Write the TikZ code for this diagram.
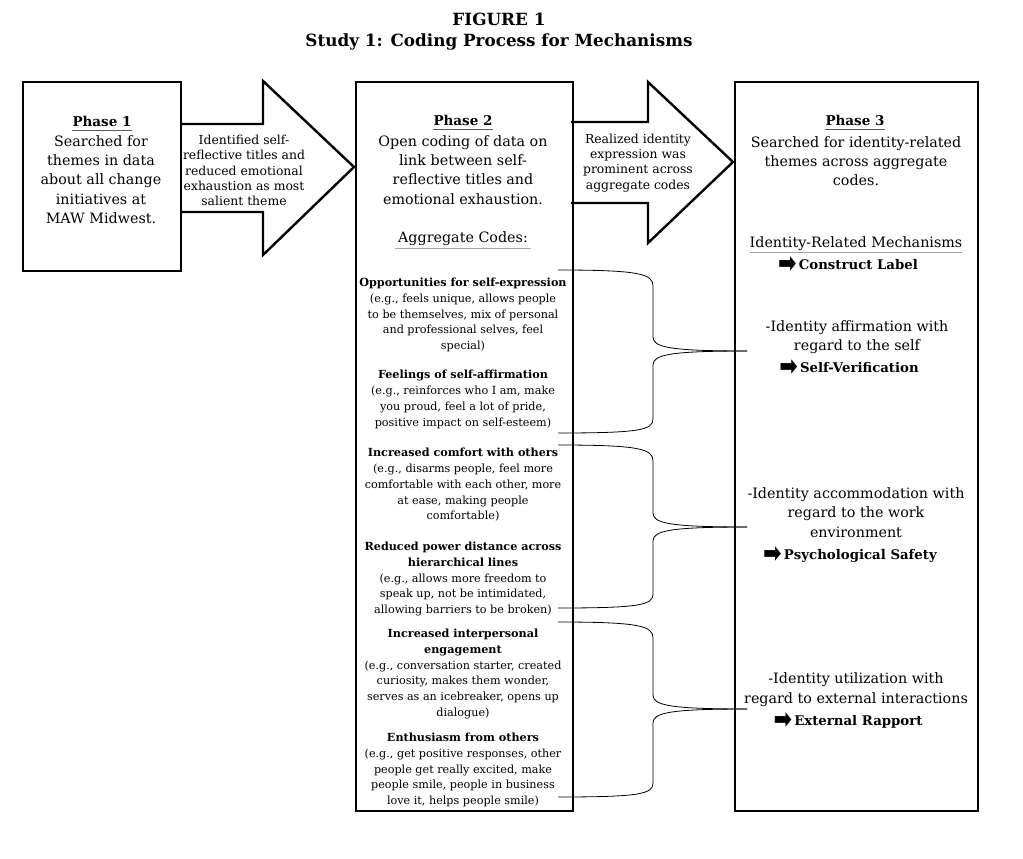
\documentclass[tikz,border=0pt]{standalone}
\usepackage{fontspec}
\usepackage{graphicx}
\setmainfont{DejaVu Serif}
\newfontfamily\arrowfont{DejaVu Sans}
\usetikzlibrary{positioning}

\newcommand\pointer{\smash{\raisebox{-2.5pt}{\scalebox{1.3}[1.6]{\arrowfont\fontsize{17}{17}\selectfont ➡}}}\,}

\tikzset{
  phasebox/.style={draw, line width=2.4pt, anchor=north west, inner sep=0pt},
  blockarrow/.style={draw, line width=2.4pt, line join=miter, fill=white},
  phasehead/.style={font=\fontsize{13.5}{19}\selectfont\bfseries, inner sep=0pt},
  phasetext/.style={font=\fontsize{14.3}{19.3}\selectfont, align=center, inner sep=0pt},
  labeltext/.style={font=\fontsize{13.3}{19}\selectfont\bfseries, inner sep=0pt},
  arrowtext/.style={font=\fontsize{12.4}{15.3}\selectfont, align=center, inner sep=0pt},
  codetext/.style={font=\fontsize{11.2}{15.8}\selectfont, align=center, inner sep=0pt},
  headline/.style={line width=1pt, black!65},
  lightline/.style={line width=1pt, black!35},
  brace/.style={line width=0.8pt},
}

\begin{document}
\begin{tikzpicture}[x=1pt, y=-1pt]
    \useasboundingbox (0,0) rectangle (1023,859);

    \node (title) [font=\fontsize{16.8}{18}\selectfont\bfseries] at (499,19) {FIGURE 1};
    \node (subtitle) [font=\fontsize{16.8}{18}\selectfont\bfseries] at (499,42) {Study 1: Coding Process for Mechanisms};

    % block arrows between the phases
    \draw[blockarrow] (180,124) -- (263,124) -- (263,81) -- (354,167) -- (263,255) -- (263,212) -- (180,212);
    \draw[blockarrow] (571,122) -- (648,122) -- (648,82) -- (733,162) -- (648,243) -- (648,203) -- (571,203);

    \node (phase1) [phasebox, minimum width=158pt, minimum height=189pt] at (22,81) {};
    \node (phase2) [phasebox, minimum width=217pt, minimum height=729pt] at (355,81) {};
    \node (phase3) [phasebox, minimum width=243pt, minimum height=729pt] at (734,81) {};

    \node (head1) [phasehead] at (102,121) {Phase 1};
    \node (text1) [phasetext] at (101,179.5) {Searched for\\themes in data\\about all change\\initiatives at\\MAW Midwest.};
    \node (step1) [arrowtext] at (244,170.5) {Identified self-\\reflective titles and\\reduced emotional\\exhaustion as most\\salient theme};

    \node (head2) [phasehead] at (463,120) {Phase 2};
    \node (text2) [phasetext] at (463,170) {Open coding of data on\\link between self-\\reflective titles and\\emotional exhaustion.};
    \node (aggr) [phasetext] at (463,239) {Aggregate Codes:};
    \node (step2) [arrowtext] at (638,163) {Realized identity\\expression was\\prominent across\\aggregate codes};

    % aggregate codes
    \node (selfexpr) [codetext] at (463,315) {\textbf{Opportunities for self-expression}\\(e.g., feels unique, allows people\\to be themselves, mix of personal\\and professional selves, feel\\special)};
    \node (selfaff) [codetext] at (463,399.5) {\textbf{Feelings of self-affirmation}\\(e.g., reinforces who I am, make\\you proud, feel a lot of pride,\\positive impact on self-esteem)};
    \node (comfort) [codetext] at (463,485) {\textbf{Increased comfort with others}\\(e.g., disarms people, feel more\\comfortable with each other, more\\at ease, making people\\comfortable)};
    \node (power) [codetext] at (463,579) {\textbf{Reduced power distance across}\\\textbf{hierarchical lines}\\(e.g., allows more freedom to\\speak up, not be intimidated,\\allowing barriers to be broken)};
    \node (engage) [codetext] at (463,674) {\textbf{Increased interpersonal}\\\textbf{engagement}\\(e.g., conversation starter, created\\curiosity, makes them wonder,\\serves as an icebreaker, opens up\\dialogue)};
    \node (enthus) [codetext] at (463,770) {\textbf{Enthusiasm from others}\\(e.g., get positive responses, other\\people get really excited, make\\people smile, people in business\\love it, helps people smile)};

    \node (head3) [phasehead] at (855,120) {Phase 3};
    \node (text3) [phasetext] at (856,161) {Searched for identity-related\\themes across aggregate\\codes.};
    \node (mech) [phasetext] at (856,244) {Identity-Related Mechanisms};
    \node (label) [labeltext] at (848,265) {\pointer Construct Label};
    \node (affirm) [phasetext] at (857,337) {-Identity affirmation with\\regard to the self};
    \node (selfver) [labeltext] at (849,368) {\pointer Self-Verification};
    \node (accom) [phasetext] at (856,512.5) {-Identity accommodation with\\regard to the work\\environment};
    \node (safety) [labeltext] at (850,556) {\pointer Psychological Safety};
    \node (utiliz) [phasetext] at (856,689.5) {-Identity utilization with\\regard to external interactions};
    \node (rapport) [labeltext] at (848,722) {\pointer External Rapport};

    \draw[headline] ([yshift=-4pt]head1.base west) -- ([yshift=-4pt]head1.base east);
    \draw[headline] ([yshift=-4pt]head2.base west) -- ([yshift=-4pt]head2.base east);
    \draw[headline] ([yshift=-4pt]head3.base west) -- ([yshift=-4pt]head3.base east);
    \draw[lightline] ([xshift=-3pt,yshift=-2pt]aggr.south west) -- ([xshift=3pt,yshift=-2pt]aggr.south east);
    \draw[lightline] ([yshift=-1pt]mech.south west) -- ([yshift=-1pt]mech.south east);

    % braces from codes to mechanisms
    \coordinate (tip1) at (747,351);
    \coordinate (tip2) at (747,527);
    \coordinate (tip3) at (747,709);
    \draw[brace] (558,270) .. controls (640,270) and (653,274) .. (653,286) -- (653,337) .. controls (653,347) and (668,351) .. (tip1);
    \draw[brace] (tip1) .. controls (668,351) and (653,355) .. (653,365) -- (653,419) .. controls (653,430) and (640,433) .. (558,433);
    \draw[brace] (558,445) .. controls (640,445) and (653,449) .. (653,461) -- (653,513) .. controls (653,523) and (668,527) .. (tip2);
    \draw[brace] (tip2) .. controls (668,527) and (653,531) .. (653,541) -- (653,594) .. controls (653,605) and (640,608) .. (558,608);
    \draw[brace] (558,622) .. controls (640,622) and (653,626) .. (653,638) -- (653,695) .. controls (653,705) and (668,709) .. (tip3);
    \draw[brace] (tip3) .. controls (668,709) and (653,713) .. (653,723) -- (653,783) .. controls (653,794) and (640,797) .. (558,797);

\end{tikzpicture}
\end{document}
